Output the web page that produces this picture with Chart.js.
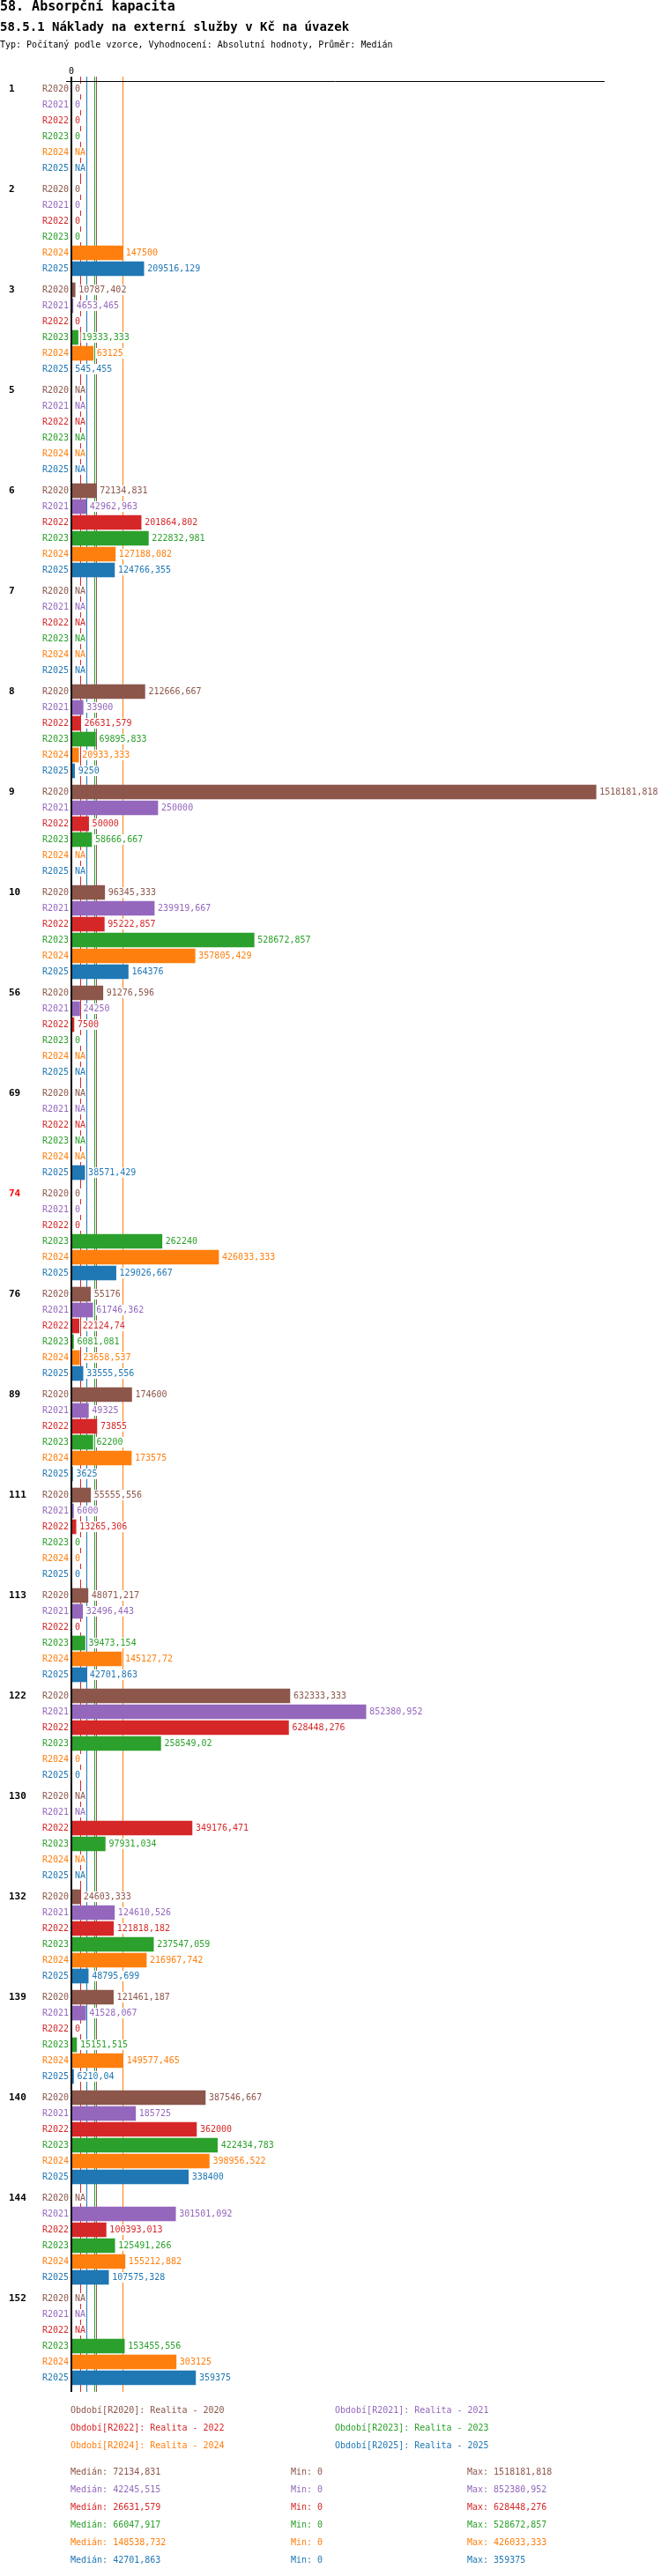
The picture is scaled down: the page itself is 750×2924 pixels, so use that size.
<!DOCTYPE html>
<html lang="cs">
<head>
<meta charset="utf-8">
<title>58.5.1 Náklady na externí služby v Kč na úvazek</title>
<script src="https://cdn.jsdelivr.net/npm/chart.js@4.4.1/dist/chart.umd.min.js"></script>
<style>
    html, body { margin: 0; padding: 0; background: #fff; }
    body { width: 750px; height: 2924px; position: relative; overflow: hidden; font-family: 'DejaVu Sans Mono', monospace; color: #000; }
    #chart { position: absolute; left: 0; top: 0; }
    .t { position: absolute; white-space: pre; font-size: 10px; line-height: 10px; }
    .h1 { position: absolute; left: 0; top: 0; font-size: 15px; line-height: 15px; font-weight: bold; white-space: pre; }
    .h2 { position: absolute; left: 0; top: 23px; font-size: 14px; line-height: 14px; font-weight: bold; white-space: pre; }
    .h3 { position: absolute; left: 0; top: 46px; font-size: 10px; line-height: 10px; white-space: pre; }
</style>
</head>
<body>
<canvas id="chart" width="750" height="2924"></canvas>
<div class="h1">58. Absorpční kapacita</div>
<div class="h2">58.5.1 Náklady na externí služby v Kč na úvazek</div>
<div class="h3">Typ: Počítaný podle vzorce, Vyhodnocení: Absolutní hodnoty, Průměr: Medián</div>
<div id="legend"></div>
<div id="stats"></div>

<script>
// ── Data ─────────────────────────────────────────────────────────────────────
const GROUPS = ['1', '2', '3', '5', '6', '7', '8', '9', '10', '56', '69', '74', '76', '89',
                '111', '113', '122', '130', '132', '139', '140', '144', '152'];
const HIGHLIGHT_GROUPS = ['74'];

const SERIES = ['R2020', 'R2021', 'R2022', 'R2023', 'R2024', 'R2025'];
const SERIES_NAMES = ['Realita - 2020', 'Realita - 2021', 'Realita - 2022', 'Realita - 2023', 'Realita - 2024', 'Realita - 2025'];
const COLORS = ['#8c564b', '#9467bd', '#d62728', '#2ca02c', '#ff7f0e', '#1f77b4'];

// null = NA
const r2020 = [0, 0, 10787.402, null, 72134.831, null, 212666.667, 1518181.818, 96345.333, 91276.596, null, 0,
               55176, 174600, 55555.556, 48071.217, 632333.333, null, 24603.333, 121461.187, 387546.667, null, null];
const r2021 = [0, 0, 4653.465, null, 42962.963, null, 33900, 250000, 239919.667, 24250, null, 0,
               61746.362, 49325, 6000, 32496.443, 852380.952, null, 124610.526, 41528.067, 185725, 301501.092, null];
const r2022 = [0, 0, 0, null, 201864.802, null, 26631.579, 50000, 95222.857, 7500, null, 0,
               22124.74, 73855, 13265.306, 0, 628448.276, 349176.471, 121818.182, 0, 362000, 100393.013, null];
const r2023 = [0, 0, 19333.333, null, 222832.981, null, 69895.833, 58666.667, 528672.857, 0, null, 262240,
               6081.081, 62200, 0, 39473.154, 258549.02, 97931.034, 237547.059, 15151.515, 422434.783, 125491.266, 153455.556];
const r2024 = [null, 147500, 63125, null, 127188.082, null, 20933.333, null, 357805.429, null, null, 426033.333,
               23658.537, 173575, 0, 145127.72, 0, null, 216967.742, 149577.465, 398956.522, 155212.882, 303125];
const r2025 = [null, 209516.129, 545.455, null, 124766.355, null, 9250, null, 164376, null, 38571.429, 129026.667,
               33555.556, 3625, 0, 42701.863, 0, null, 48795.699, 6210.04, 338400, 107575.328, 359375];
const VALUES = [r2020, r2021, r2022, r2023, r2024, r2025];

const MEDIANS = [72134.831, 42245.515, 26631.579, 66047.917, 148538.732, 42701.863];
const MINS = [0, 0, 0, 0, 0, 0];
const MAXS = [1518181.818, 852380.952, 628448.276, 528672.857, 426033.333, 359375];

const X_MAX = 1543000;
const GROUP_STEP = 6 + 1 / 3;   // six rows plus a third of a row gap

function rowPos(g, s) { return g * GROUP_STEP + s; }

function fmt(v) {
    if (v === null || v === undefined) return 'NA';
    return String(Math.round(v * 1000) / 1000).replace('.', ',');
}

// ── Drawing extras: medians, axis lines, row/group/value labels ─────────────
const overlay = {
    id: 'overlay',
    beforeDatasetsDraw(chart) {
        const { ctx, chartArea, scales: { x } } = chart;
        ctx.save();
        ctx.lineWidth = 1;
        MEDIANS.forEach((m, s) => {
            const px = Math.round(x.getPixelForValue(m)) + 0.5;
            ctx.strokeStyle = COLORS[s];
            ctx.beginPath();
            ctx.moveTo(px, chartArea.top - 5);
            ctx.lineTo(px, chartArea.bottom);
            ctx.stroke();
        });
        ctx.restore();
    },
    afterDatasetsDraw(chart) {
        const { ctx, chartArea, scales: { x, y } } = chart;
        const x0 = x.getPixelForValue(0);
        ctx.save();
        ctx.textBaseline = 'middle';

        GROUPS.forEach((grp, g) => {
            const gy = y.getPixelForValue(rowPos(g, 0));
            ctx.font = 'bold 11px "DejaVu Sans Mono"';
            ctx.textAlign = 'left';
            ctx.fillStyle = HIGHLIGHT_GROUPS.includes(grp) ? '#ff0000' : '#000';
            ctx.fillText(grp, 10, gy);

            ctx.font = '10px "DejaVu Sans Mono"';
            SERIES.forEach((name, s) => {
                const py = y.getPixelForValue(rowPos(g, s));
                ctx.textAlign = 'right';
                ctx.fillStyle = COLORS[s];
                ctx.fillText(name, 78, py);

                const v = VALUES[s][g];
                const txt = fmt(v);
                const lx = x.getPixelForValue(v || 0) + 4;
                const w = ctx.measureText(txt).width;
                ctx.fillStyle = '#fff';
                ctx.fillRect(lx - 1, py - 6, w + 2, 12);
                ctx.textAlign = 'left';
                ctx.fillStyle = COLORS[s];
                ctx.fillText(txt, lx, py);
            });
        });

        // axes
        ctx.strokeStyle = '#000';
        ctx.lineWidth = 1;
        ctx.beginPath();
        ctx.moveTo(x0 - 6, chartArea.top + 0.5);
        ctx.lineTo(chartArea.right, chartArea.top + 0.5);
        ctx.stroke();
        ctx.lineWidth = 2;
        ctx.beginPath();
        ctx.moveTo(x0, chartArea.top - 5);
        ctx.lineTo(x0, chartArea.bottom);
        ctx.stroke();

        ctx.font = '10px "DejaVu Sans Mono"';
        ctx.fillStyle = '#000';
        ctx.textAlign = 'center';
        ctx.fillText('0', x0, chartArea.top - 11);
        ctx.restore();
    }
};

const lastPos = rowPos(GROUPS.length - 1, SERIES.length - 1);

const datasets = SERIES.map((name, s) => ({
    label: name,
    data: GROUPS.map((grp, g) => ({ x: VALUES[s][g], y: rowPos(g, s) })),
    backgroundColor: COLORS[s],
    borderWidth: 0,
    barThickness: 16,
    grouped: false
}));

new Chart(document.getElementById('chart').getContext('2d'), {
    type: 'bar',
    data: { datasets },
    options: {
        indexAxis: 'y',
        responsive: false,
        devicePixelRatio: 1,
        animation: false,
        events: [],
        layout: { padding: { left: 81, right: 64, top: 92, bottom: 209 } },
        plugins: { legend: { display: false }, tooltip: { enabled: false } },
        scales: {
            x: { type: 'linear', display: false, offset: false, min: 0, max: X_MAX },
            y: { type: 'linear', display: false, offset: false, reverse: true, min: -0.5, max: lastPos + 16 / 18 }
        }
    },
    plugins: [overlay]
});

// ── Legend and summary lines (HTML text) ────────────────────────────────────
const legend = document.getElementById('legend');
SERIES.forEach((name, s) => {
    const d = document.createElement('div');
    d.className = 't';
    d.style.left = (s % 2 === 0 ? 80 : 380) + 'px';
    d.style.top = (2731 + Math.floor(s / 2) * 20) + 'px';
    d.style.color = COLORS[s];
    d.textContent = `Období[${name}]: ${SERIES_NAMES[s]}`;
    legend.appendChild(d);
});

const stats = document.getElementById('stats');
SERIES.forEach((name, s) => {
    const top = (2801 + s * 20) + 'px';
    [['Medián: ' + fmt(MEDIANS[s]), 80], ['Min: ' + fmt(MINS[s]), 330], ['Max: ' + fmt(MAXS[s]), 530]].forEach(([txt, left]) => {
        const d = document.createElement('div');
        d.className = 't';
        d.style.left = left + 'px';
        d.style.top = top;
        d.style.color = COLORS[s];
        d.textContent = txt;
        stats.appendChild(d);
    });
});
</script>
</body>
</html>
